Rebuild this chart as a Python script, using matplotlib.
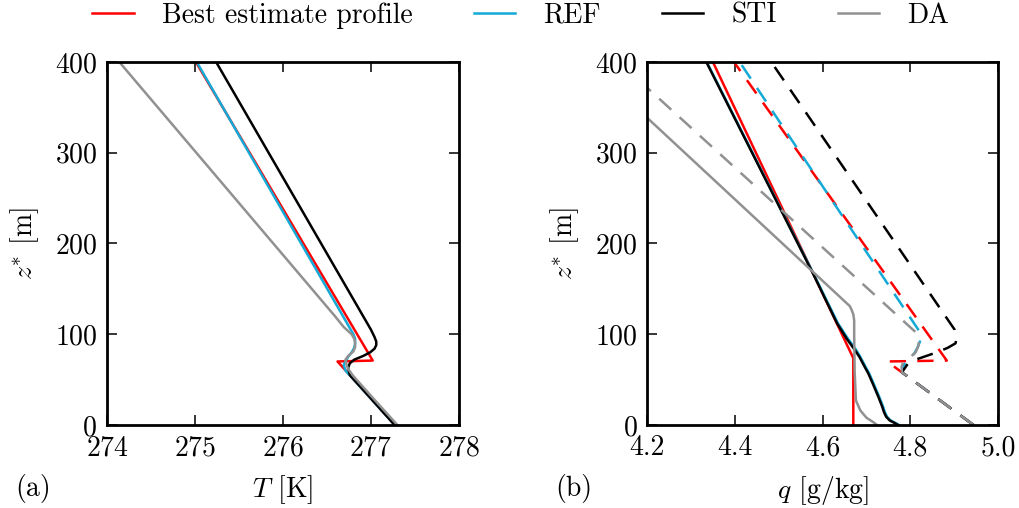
import matplotlib
matplotlib.use("Agg")
import matplotlib.pyplot as plt
from matplotlib.ticker import FormatStrFormatter

plt.rcParams['font.family'] = 'serif'
plt.rcParams['font.serif'] = ['cmr10']
plt.rcParams['mathtext.fontset'] = 'cm'
plt.rcParams['axes.formatter.use_mathtext'] = True
plt.rcParams['font.size'] = 20

# Colours
C_BEST = '#ff0000'
C_REF = '#14a9d6'
C_STI = '#000000'
C_DA = '#919191'

# (a) temperature profiles: height [m], T [K]
best_z = [0, 70, 71, 400]
best_T = [277.27, 276.62, 277.02, 275.01]

ref_z = [0, 30, 60, 66, 70, 75, 80, 85, 90, 95, 100, 400]
ref_T = [277.27, 276.99, 276.71, 276.69, 276.71, 276.74, 276.78, 276.81, 276.82, 276.82, 276.80, 275.02]

sti_z = [0, 40, 55, 63, 68, 72, 76, 80, 84, 88, 92, 97, 105, 400]
sti_T = [277.27, 276.90, 276.76, 276.74, 276.76, 276.81, 276.91, 276.99, 277.04, 277.06, 277.06, 277.04, 277.00, 275.24]

da_z = [0, 30, 55, 62, 67, 72, 76, 81, 86, 90, 95, 100, 108, 120, 400]
da_T = [277.30, 277.02, 276.79, 276.74, 276.72, 276.71, 276.74, 276.80, 276.82, 276.82, 276.81, 276.78, 276.69, 276.59, 274.14]

# (b) humidity profiles, solid: q [g/kg]
best_qz = [0, 73.6, 400]
best_q = [4.670, 4.670, 4.350]

sti_qz = [0, 2, 5, 9, 14, 20, 30, 46, 57, 64, 75, 83, 95, 112, 167, 400]
sti_q = [4.772, 4.765, 4.753, 4.745, 4.740, 4.736, 4.728, 4.714, 4.704, 4.696, 4.684, 4.673, 4.655, 4.633, 4.578, 4.335]

ref_qz = sti_qz
ref_q = [4.774, 4.767, 4.755, 4.747, 4.742, 4.738, 4.730, 4.716, 4.706, 4.698, 4.686, 4.676, 4.658, 4.635, 4.579, 4.336]

da_qz = [0, 3, 8, 16, 27, 60, 100, 115, 122, 127, 131, 338.6]
da_q = [4.724, 4.716, 4.700, 4.686, 4.676, 4.673, 4.672, 4.672, 4.670, 4.666, 4.662, 4.2]

# (b) humidity profiles, dashed
best_qdz = [0, 70, 71, 400]
best_qd = [4.944, 4.747, 4.883, 4.398]

ref_qdz = [0, 58, 66, 72, 78, 85, 92, 100, 400]
ref_qd = [4.944, 4.781, 4.785, 4.795, 4.808, 4.816, 4.822, 4.825, 4.411]

sti_qdz = [0, 58, 66, 70, 75, 80, 85, 90, 95, 105, 400]
sti_qd = [4.944, 4.781, 4.792, 4.800, 4.830, 4.860, 4.885, 4.903, 4.905, 4.901, 4.483]

da_qdz = [0, 58, 64, 70, 75, 80, 88, 95, 101, 371.7]
da_qd = [4.944, 4.781, 4.780, 4.784, 4.800, 4.812, 4.819, 4.819, 4.815, 4.2]

LW = 1.8
DASH = (0, (6.5, 4.5))

fig = plt.figure(figsize=(10.19, 5.08), dpi=100)
ax1 = fig.add_axes([0.105, 0.1634, 0.3454, 0.7146])
ax2 = fig.add_axes([0.635, 0.1634, 0.3445, 0.7146])

ax1.plot(best_T, best_z, color=C_BEST, lw=LW, label='Best estimate profile')
ax1.plot(ref_T, ref_z, color=C_REF, lw=LW, label='REF')
ax1.plot(sti_T, sti_z, color=C_STI, lw=LW, label='STI')
ax1.plot(da_T, da_z, color=C_DA, lw=LW, label='DA')

ax2.plot(best_q, best_qz, color=C_BEST, lw=LW)
ax2.plot(ref_q, ref_qz, color=C_REF, lw=LW)
ax2.plot(sti_q, sti_qz, color=C_STI, lw=LW)
ax2.plot(da_q, da_qz, color=C_DA, lw=LW)

ax2.plot(best_qd, best_qdz, color=C_BEST, lw=LW, ls=DASH)
ax2.plot(ref_qd, ref_qdz, color=C_REF, lw=LW, ls=DASH)
ax2.plot(sti_qd, sti_qdz, color=C_STI, lw=LW, ls=DASH)
ax2.plot(da_qd, da_qdz, color=C_DA, lw=LW, ls=DASH)

ax1.set_xlim(274, 278)
ax1.set_xticks([274, 275, 276, 277, 278])
ax2.set_xlim(4.2, 5.0)
ax2.set_xticks([4.2, 4.4, 4.6, 4.8, 5.0])
ax2.xaxis.set_major_formatter(FormatStrFormatter('%.1f'))

ax1.set_xlabel(r'$T$ [K]', labelpad=9)
ax2.set_xlabel(r'$q$ [g/kg]', labelpad=9)

for ax in (ax1, ax2):
    ax.set_ylim(0, 400)
    ax.set_yticks([0, 100, 200, 300, 400])
    ax.set_ylabel(r'$z^{*}$ [m]', labelpad=10)
    ax.tick_params(direction='in', length=7, width=1.1, top=True, right=True, pad=7)
    for sp in ax.spines.values():
        sp.set_linewidth(2.0)

fig.text(0.015, 0.038, '(a)', va='center', ha='left')
fig.text(0.545, 0.038, '(b)', va='center', ha='left')

fig.legend(loc='upper center', bbox_to_anchor=(0.511, 1.045), ncol=4, frameon=False,
           handlelength=1.5, handletextpad=1.0, columnspacing=2.2)

fig.savefig('out.png', dpi=100)
